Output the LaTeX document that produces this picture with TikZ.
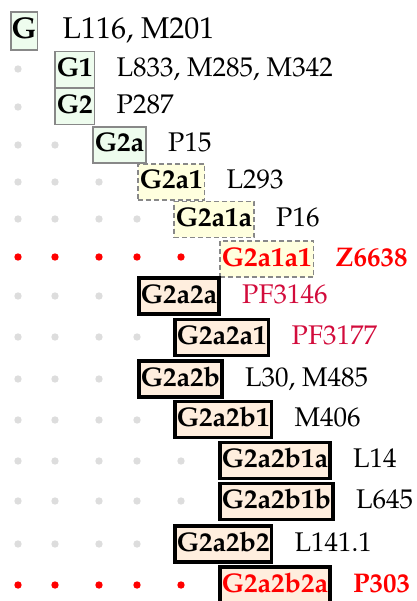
\documentclass[tikz,border=0pt]{standalone}
\usepackage[T1]{fontenc}
\usepackage{mathpazo}
\definecolor{grnfill}{RGB}{238,252,238}
\definecolor{ylwfill}{RGB}{255,255,222}
\definecolor{pchfill}{RGB}{255,238,222}
\definecolor{boxgray}{RGB}{136,136,136}
\definecolor{dotgray}{RGB}{221,221,221}
\definecolor{hotred}{RGB}{255,0,0}
\definecolor{crim}{RGB}{210,12,60}
\begin{document}
\begin{tikzpicture}[x=1pt,y=-1pt,
  box/.style={anchor=west, inner xsep=2pt, inner ysep=5pt, text height=20pt, text depth=6pt,
    font=\fontsize{27}{32}\selectfont\bfseries},
  grn/.style={box, fill=grnfill, draw=boxgray, line width=1.5pt},
  ylw/.style={box, fill=ylwfill, draw=boxgray, line width=1.5pt, dash pattern=on 5pt off 3pt},
  pch/.style={box, fill=pchfill, draw=black, line width=3.5pt},
  rootbox/.style={inner xsep=1pt, inner ysep=4.5pt, text height=22pt, text depth=7pt,
    font=\fontsize{30}{35}\selectfont\bfseries},
  lbl/.style={anchor=base west, inner sep=0pt, xshift=21pt, font=\fontsize{27}{32}\selectfont},
  hot/.style={text=hotred},
  dg/.style={fill=dotgray},
  dr/.style={fill=hotred}]
\useasboundingbox (0,0) rectangle (416,601);
% dots
\foreach \y in {69,107} \fill[dg] (18,\y) circle[radius=3.7pt];
\foreach \x in {18,55} \fill[dg] (\x,145) circle[radius=3.7pt];
\foreach \y in {182,296,379}
  \foreach \x in {18,55,99} \fill[dg] (\x,\y) circle[radius=3.7pt];
\foreach \y in {219,337,420,544}
  \foreach \x in {18,55,99,137} \fill[dg] (\x,\y) circle[radius=3.7pt];
\foreach \y in {461,501}
  \foreach \x in {18,55,99,137,181} \fill[dg] (\x,\y) circle[radius=3.7pt];
\foreach \y in {257,585}
  \foreach \x in {18,55,99,137,181} \fill[dr] (\x,\y) circle[radius=3.7pt];
% boxes
\node[grn, rootbox] (n0) at (10,31) {G};
\node[grn] (n1) at (54,69.5) {G1};
\node[grn] (n2) at (54,106.5) {G2};
\node[grn] (n3) at (92,145) {G2a};
\node[ylw] (n4) at (137,182) {G2a1};
\node[ylw] (n5) at (173,219.5) {G2a1a};
\node[ylw, hot] (n6) at (219,259) {G2a1a1};
\node[pch] (n7) at (137,296) {G2a2a};
\node[pch] (n8) at (173,337.5) {G2a2a1};
\node[pch] (n9) at (137,379) {G2a2b};
\node[pch] (n10) at (173,419.5) {G2a2b1};
\node[pch] (n11) at (218,460.5) {G2a2b1a};
\node[pch] (n12) at (218,501.5) {G2a2b1b};
\node[pch] (n13) at (173,544) {G2a2b2};
\node[pch, hot] (n14) at (218,585) {G2a2b2a};
% labels
\node[lbl, xshift=3pt, font=\fontsize{30}{35}\selectfont] (l0) at (n0.base east) {L116, M201};
\node[lbl] (l1) at (n1.base east) {L833, M285, M342};
\node[lbl] (l2) at (n2.base east) {P287};
\node[lbl] (l3) at (n3.base east) {P15};
\node[lbl] (l4) at (n4.base east) {L293};
\node[lbl] (l5) at (n5.base east) {P16};
\node[lbl, hot, font=\fontsize{27}{32}\selectfont\bfseries] (l6) at (n6.base east) {Z6638};
\node[lbl, text=crim] (l7) at (n7.base east) {PF3146};
\node[lbl, text=crim] (l8) at (n8.base east) {PF3177};
\node[lbl] (l9) at (n9.base east) {L30, M485};
\node[lbl] (l10) at (n10.base east) {M406};
\node[lbl] (l11) at (n11.base east) {L14};
\node[lbl] (l12) at (n12.base east) {L645};
\node[lbl] (l13) at (n13.base east) {L141.1};
\node[lbl, hot, font=\fontsize{27}{32}\selectfont\bfseries] (l14) at (n14.base east) {P303};
\end{tikzpicture}
\end{document}
